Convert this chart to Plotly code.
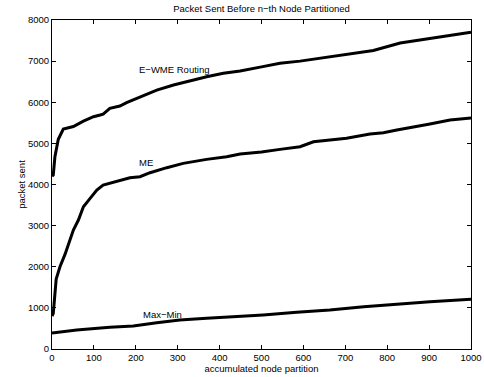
import plotly.graph_objects as go

x_ewme = [0, 3, 7, 15, 27, 40, 51, 75, 99, 115, 122, 138, 162, 178, 210, 250, 290, 329, 369, 409, 449, 500, 544, 592, 663, 711, 767, 831, 870, 910, 950, 1000]
y_ewme = [4200, 4230, 4676, 5100, 5350, 5390, 5410, 5540, 5648, 5689, 5713, 5852, 5908, 5989, 6119, 6297, 6419, 6524, 6621, 6703, 6759, 6860, 6946, 7000, 7107, 7180, 7260, 7440, 7500, 7560, 7620, 7700]

x_me = [0, 3, 10, 19, 31, 43, 51, 63, 75, 91, 107, 122, 154, 186, 210, 234, 274, 313, 369, 417, 449, 500, 544, 592, 624, 703, 759, 791, 823, 870, 902, 950, 1000]
y_me = [800, 868, 1700, 2001, 2300, 2650, 2893, 3136, 3460, 3664, 3866, 3987, 4068, 4165, 4190, 4287, 4409, 4514, 4611, 4676, 4740, 4790, 4854, 4919, 5040, 5123, 5227, 5260, 5325, 5422, 5471, 5568, 5620]

x_mm = [0, 59, 138, 194, 250, 305, 369, 425, 504, 584, 663, 744, 823, 902, 1000]
y_mm = [390, 462, 528, 559, 640, 705, 746, 775, 827, 892, 948, 1029, 1094, 1150, 1210]

labels = ["E\u2212WME Routing", "ME", "Max\u2212Min"]
label_x = [202, 204, 212]
label_y = [6800, 4530, 851]

x_ticks = [0, 100, 200, 300, 400, 500, 600, 700, 800, 900, 1000]
y_ticks = [0, 1000, 2000, 3000, 4000, 5000, 6000, 7000, 8000]

FONT = "Liberation Sans, Arial, sans-serif"

fig = go.Figure()
for xs, ys in [(x_ewme, y_ewme), (x_me, y_me), (x_mm, y_mm)]:
    fig.add_trace(go.Scatter(x=xs, y=ys, mode="lines",
                             line=dict(color="black", width=3),
                             showlegend=False, hoverinfo="skip"))

for t, xx, yy in zip(labels, label_x, label_y):
    fig.add_annotation(x=xx, y=yy, text=t, showarrow=False, xanchor="left",
                       yanchor="middle", font=dict(family=FONT, size=9.5, color="black"))

axis_common = dict(showgrid=False, zeroline=False, showline=True, linecolor="black",
                   linewidth=1, mirror="ticks", ticks="inside", ticklen=4,
                   tickcolor="black", tickwidth=1,
                   tickfont=dict(family=FONT, size=9.5, color="black"))

fig.update_xaxes(range=[0, 1000], tickvals=x_ticks, **axis_common,
                 title=dict(text="accumulated node partition", standoff=2,
                            font=dict(family=FONT, size=9.5, color="black")))
fig.update_yaxes(range=[0, 8000], tickvals=y_ticks, **axis_common,
                 title=dict(text="packet sent", standoff=0,
                            font=dict(family=FONT, size=9.5, color="black")))

fig.update_layout(
    width=484, height=377,
    margin=dict(l=52, r=13, t=20, b=28, autoexpand=False),
    paper_bgcolor="white", plot_bgcolor="white",
    title=dict(text="Packet Sent Before n\u2212th Node Partitioned", x=0.5, xref="paper",
               xanchor="center", y=1 - 9 / 377, yanchor="middle", yref="container",
               font=dict(family=FONT, size=9.5, color="black")),
)

fig.write_html("out.html", config={"displayModeBar": False},
               post_script="document.body.style.margin='0';")
